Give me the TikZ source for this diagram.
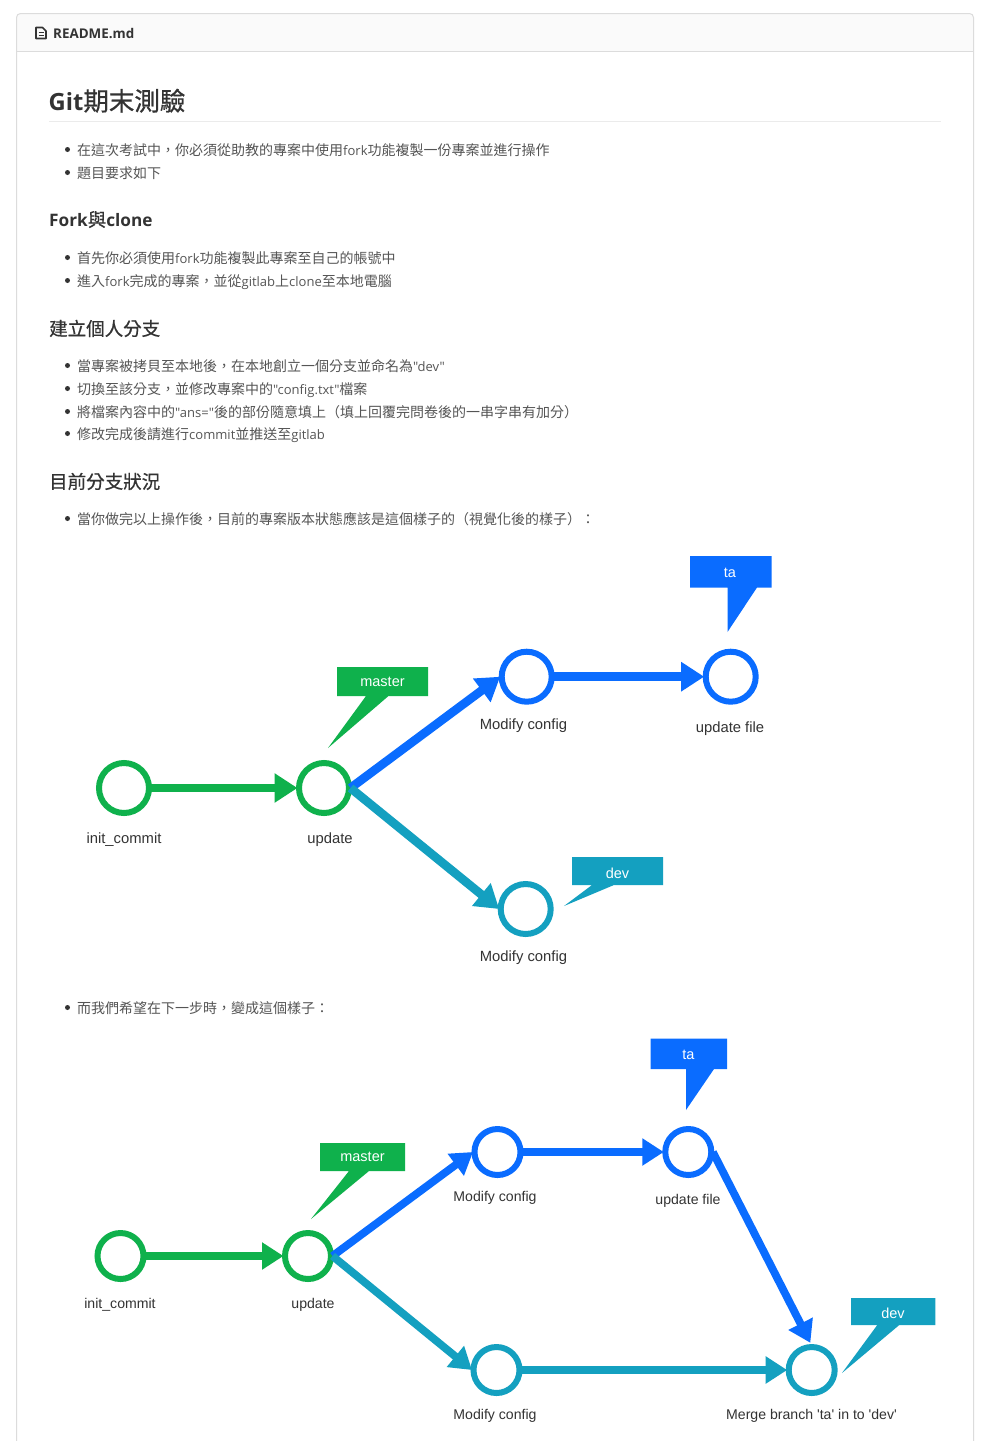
\documentclass[tikz,border=0pt]{standalone}
\usepackage{fontspec}
\setmainfont[Ligatures=TeXOff,Scale=0.93]{Open Sans}
\newfontfamily\cjk{Noto Sans CJK TC}
\newfontfamily\cjkh[FakeBold=0.7]{Noto Sans CJK TC}
\newfontfamily\lab{Liberation Sans}
\usetikzlibrary{arrows.meta}
\newcommand{\C}[1]{{\cjk #1}}
\newcommand{\CH}[1]{{\cjkh\mdseries #1}}
\definecolor{gitgreen}{HTML}{0FB14C}
\definecolor{gitblue}{HTML}{0A6CFF}
\definecolor{gitteal}{HTML}{14A0C0}
\definecolor{framegray}{HTML}{DCDCDC}
\definecolor{bodytxt}{HTML}{555555}
\definecolor{headtxt}{HTML}{333333}
\tikzset{
  body/.style={anchor=base west,inner sep=0pt,text=bodytxt,font=\fontsize{14}{16}\selectfont},
  htwo/.style={anchor=base west,inner sep=0pt,text=headtxt,font=\fontsize{18.5}{20}\selectfont\bfseries},
  bul/.style={circle,fill=headtxt,minimum size=5pt,inner sep=0pt},
  ca/.style={circle,draw,line width=6pt,minimum size=50pt,inner sep=0pt,outer sep=1.5pt,fill=white},
  cb/.style={circle,draw,line width=6pt,minimum size=46pt,inner sep=0pt,outer sep=1.5pt,fill=white},
  laba/.style={inner sep=0pt,text=headtxt,font=\lab\fontsize{14.8}{16}\selectfont},
  labb/.style={inner sep=0pt,text=headtxt,font=\lab\fontsize{14.1}{16}\selectfont},
  tag/.style={inner sep=0pt,text=white,font=\lab\fontsize{14.5}{16}\selectfont},
  ea/.style={line width=8.7pt,-{Triangle[length=23pt,width=28pt]}},
  eb/.style={line width=7.8pt,-{Triangle[length=21.5pt,width=26pt]}},
}
\begin{document}
\begin{tikzpicture}[x=1pt,y=-1pt]
\useasboundingbox (0,0) rectangle (1006,1441);
\fill[white] (0,0) rectangle (1006,1441);
% frame
\fill[black!2,rounded corners=4pt] (16.5,60) -- (16.5,13.5) -- (973.5,13.5) -- (973.5,60) -- cycle;
\fill[white] (16.5,51.5) rectangle (973.5,62);
\draw[framegray,line width=1pt,rounded corners=4pt] (16.5,1441) -- (16.5,13.5) -- (973.5,13.5) -- (973.5,1441);
\draw[framegray,line width=1pt] (16.5,51.5) -- (973.5,51.5);
\draw[headtxt,line width=1.7pt,line join=round] (36,27.5) -- (42.5,27.5) -- (46,31) -- (46,38.5) -- (36,38.5) -- cycle;
\draw[headtxt,line width=1.3pt] (38.5,32.5) -- (43.5,32.5) (38.5,35.3) -- (43.5,35.3);
\node[anchor=base west,inner sep=0pt,text=headtxt,font=\fontsize{14.4}{15}\selectfont\bfseries] (readme) at (53,38) {README.md};
% headings
\node[anchor=base west,inner sep=0pt,text=headtxt,font=\fontsize{25.5}{28}\selectfont\bfseries] (title) at (48.5,110.5) {Git\CH{期末測驗}};
\draw[black!8,line width=1pt] (49,121.5) -- (941,121.5);
\node[htwo] (h1) at (49,226.5) {Fork\CH{與}clone};
\node[htwo] (h2) at (49,335.5) {\CH{建立個人分支}};
\node[htwo] (h3) at (49,488.5) {\CH{目前分支狀況}};
% bullets
\foreach \n/\y in {a/149.5,b/172.5,c/257.5,d/280.5,e/365.5,f/388.5,g/411.5,h/433.5,i/518.5,j/1007.5}
  \node[bul] (b\n) at (67.5,\y) {};
\node[body] (ta) at (77,155.5) {\C{在這次考試中，你必須從助教的專案中使用}fork\C{功能複製一份專案並進行操作}};
\node[body] (tb) at (77,178.5) {\C{題目要求如下}};
\node[body] (tc) at (77,263.5) {\C{首先你必須使用}fork\C{功能複製此專案至自己的帳號中}};
\node[body] (td) at (77,286.5) {\C{進入}fork\C{完成的專案，並從}gitlab\C{上}clone\C{至本地電腦}};
\node[body] (te) at (77,371.5) {\C{當專案被拷貝至本地後，在本地創立一個分支並命名為}"dev"};
\node[body] (tf) at (77,394.5) {\C{切換至該分支，並修改專案中的}"config.txt"\C{檔案}};
\node[body] (tg) at (77,417.5) {\C{將檔案內容中的}"ans="\C{後的部份隨意填上（填上回覆完問卷後的一串字串有加分）}};
\node[body] (th) at (77,439.5) {\C{修改完成後請進行}commit\C{並推送至}gitlab};
\node[body] (ti) at (77,524.5) {\C{當你做完以上操作後，目前的專案版本狀態應該是這個樣子的（視覺化後的樣子）：}};
\node[body] (tj) at (77,1013.5) {\C{而我們希望在下一步時，變成這個樣子：}};
% ---------- diagram 1
\node[ca,draw=gitgreen] (ainit) at (124,788) {};
\node[ca,draw=gitgreen] (aupd) at (324,788) {};
\node[ca,draw=gitblue] (amod) at (526.7,676.7) {};
\node[ca,draw=gitblue] (afile) at (730.7,676.7) {};
\node[ca,draw=gitteal] (adev) at (525.7,909) {};
\draw[ea,gitgreen] (ainit) -- (aupd);
\draw[ea,gitblue] (amod) -- (afile);
\draw[ea,gitblue] (aupd.east) -- (amod.west);
\draw[ea,gitteal] (aupd.east) -- (adev.west);
\node[laba] (lainit) at (124,840) {init\_commit};
\node[laba] (laupd) at (330,840) {update};
\node[laba] (lamod) at (523.5,726) {Modify config};
\node[laba] (lafile) at (730,729) {update file};
\node[laba] (ladev) at (523.5,958) {Modify config};
\fill[gitgreen] (337,667) -- (428,667) -- (428,696) -- (388.5,696) -- (328,748) -- (366,696) -- (337,696) -- cycle;
\node[tag] (tmaster) at (382.5,682) {master};
\fill[gitblue] (690,556) -- (771.5,556) -- (771.5,587.5) -- (757,587.5) -- (727.5,632) -- (727.5,587.5) -- (690,587.5) -- cycle;
\node[tag] (tta) at (730,573) {ta};
\fill[gitteal] (572,857) -- (663,857) -- (663,885) -- (614,885) -- (564,906) -- (592,885) -- (572,885) -- cycle;
\node[tag] (tdev) at (617.5,873) {dev};
% ---------- diagram 2
\node[cb,draw=gitgreen] (binit) at (120.5,1256) {};
\node[cb,draw=gitgreen] (bupd) at (308,1256) {};
\node[cb,draw=gitblue] (bmod) at (497.5,1152) {};
\node[cb,draw=gitblue] (bfile) at (688.3,1152) {};
\node[cb,draw=gitteal] (bdev) at (496.5,1370) {};
\node[cb,draw=gitteal] (bmerge) at (811.7,1370) {};
\draw[eb,gitgreen] (binit) -- (bupd);
\draw[eb,gitblue] (bmod) -- (bfile);
\draw[eb,gitblue] (bupd.east) -- (bmod.west);
\draw[eb,gitteal] (bupd.east) -- (bdev.west);
\draw[eb,gitteal] (bdev) -- (bmerge);
\draw[eb,gitblue,shorten >=3pt] (bfile.east) -- (bmerge.north);
\node[labb] (lbinit) at (120,1305) {init\_commit};
\node[labb] (lbupd) at (313,1305) {update};
\node[labb] (lbmod) at (495,1198) {Modify config};
\node[labb] (lbfile) at (688,1201) {update file};
\node[labb] (lbdev) at (495,1416) {Modify config};
\node[labb] (lbmerge) at (811.5,1416) {Merge branch 'ta' in to 'dev'};
\fill[gitgreen] (320,1143) -- (405,1143) -- (405,1171) -- (369,1171) -- (311,1219) -- (349,1171) -- (320,1171) -- cycle;
\node[tag] (ubmaster) at (362.5,1157) {master};
\fill[gitblue] (650.5,1038.5) -- (727,1038.5) -- (727,1069) -- (714,1069) -- (686,1110) -- (686,1069) -- (650.5,1069) -- cycle;
\node[tag] (ubta) at (688.5,1055) {ta};
\fill[gitteal] (851,1298) -- (935.3,1298) -- (935.3,1325) -- (899.3,1325) -- (842,1373) -- (877.3,1325) -- (851,1325) -- cycle;
\node[tag] (ubdev) at (893,1313.5) {dev};
\end{tikzpicture}
\end{document}
